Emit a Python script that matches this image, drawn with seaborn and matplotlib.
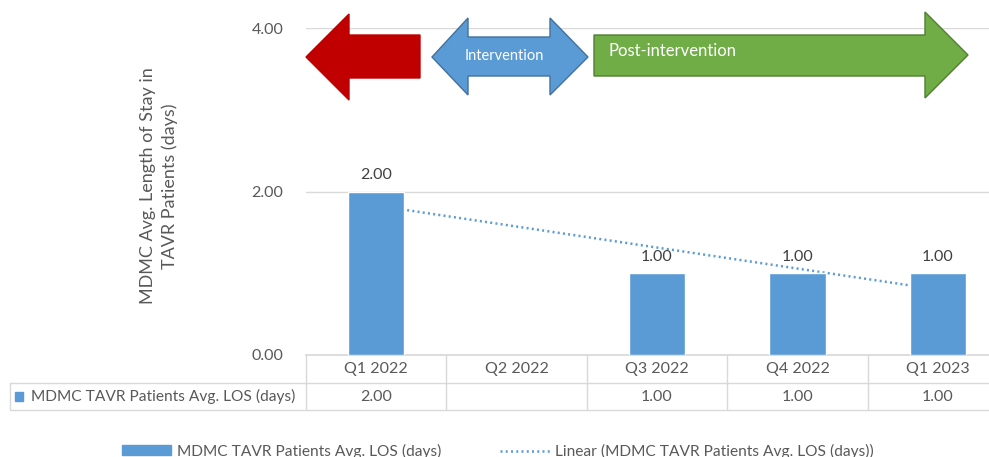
import numpy as np
import pandas as pd
import matplotlib
matplotlib.use("Agg")
import matplotlib.pyplot as plt
from matplotlib.patches import Polygon, Rectangle
from matplotlib.lines import Line2D
import seaborn as sns

categories = ["Q1 2022", "Q2 2022", "Q3 2022", "Q4 2022", "Q1 2023"]
los_values = [2.00, np.nan, 1.00, 1.00, 1.00]
series_name = "MDMC TAVR Patients Avg. LOS (days)"
trend_name = "Linear (MDMC TAVR Patients Avg. LOS (days))"
y_ticks = [0, 2, 4]

sns.set_theme(style="white")
plt.rcParams["font.family"] = ["Lato", "DejaVu Sans"]

W, H = 989, 457
fig = plt.figure(figsize=(W / 100, H / 100), dpi=100)

BAR = "#5B9BD5"
TXT = "#595959"
GRID = "#D9D9D9"
FS = 11.2

# main axes in pixel terms
left_px, right_px, top_px, bot_px = 305.75, 1008.25, 28, 355
ax = fig.add_axes([left_px / W, 1 - bot_px / H, (right_px - left_px) / W, (bot_px - top_px) / H])

df = pd.DataFrame({"cat": categories, "val": los_values}).dropna()
sns.barplot(data=df, x="cat", y="val", order=categories, color=BAR, width=0.4,
            saturation=1, ax=ax, zorder=3)
for c in ax.containers:
    ax.bar_label(c, fmt="%.2f", padding=7, fontsize=11.5, color="#404040")

# linear trendline (Excel-style)
xs = np.arange(len(categories))
vals = np.array(los_values, dtype=float)
m = ~np.isnan(vals)
k, b = np.polyfit(xs[m], vals[m], 1)
ax.plot(xs, k * xs + b, color=BAR, lw=1.8, ls=(0, (0.8, 1.3)), zorder=2)

ax.set_xlim(-0.5, len(categories) - 0.5)
ax.set_ylim(0, 4)
ax.set_yticks(y_ticks)
ax.set_yticklabels([f"{t:.2f}" for t in y_ticks], fontsize=11.5, color=TXT)
ax.tick_params(axis="y", length=0, pad=16)
ax.set_xticks([])
ax.set_xlabel("")
ax.set_ylabel("")
ax.grid(axis="y", color=GRID, lw=1, zorder=0)
for s in ["top", "right", "left"]:
    ax.spines[s].set_visible(False)
ax.spines["bottom"].set_color(GRID)

# overlay in pixel coords for table, arrows, legend, y-label
ov = fig.add_axes([0, 0, 1, 1], zorder=5)
ov.set_xlim(0, W)
ov.set_ylim(H, 0)
ov.axis("off")
ov.patch.set_alpha(0)

step = (right_px - left_px) / len(categories)
bounds = [left_px + step * i for i in range(len(categories) + 1)]
for xb in bounds:
    ov.add_line(Line2D([xb, xb], [355, 410], color=GRID, lw=1))
ov.add_line(Line2D([10, 10], [383, 410], color=GRID, lw=1))
ov.add_line(Line2D([10, W], [383, 383], color=GRID, lw=1))
ov.add_line(Line2D([10, W], [410, 410], color=GRID, lw=1))
for i, cat in enumerate(categories):
    cx = left_px + step * (i + 0.5)
    ov.text(cx, 369, cat, ha="center", va="center", fontsize=11.5, color=TXT)
    v = los_values[i]
    if not np.isnan(v):
        ov.text(cx, 397, f"{v:.2f}", ha="center", va="center", fontsize=11.5, color=TXT)
ov.add_patch(Rectangle((15, 392), 8, 9, color=BAR))
ov.text(31, 396.5, series_name, ha="left", va="center", fontsize=FS, color=TXT)

# legend
ov.add_patch(Rectangle((122, 445), 49, 10, color=BAR))
ov.text(177, 451, series_name, ha="left", va="center", fontsize=FS, color=TXT)
ov.add_line(Line2D([500, 552], [451, 451], color=BAR, lw=1.8, ls=(0, (0.8, 1.3))))
ov.text(555, 451, trend_name, ha="left", va="center", fontsize=FS, color=TXT)

# y label
ov.text(159, 186, "MDMC Avg. Length of Stay in\nTAVR Patients (days)", rotation=90,
        ha="center", va="center", fontsize=13, color=TXT, linespacing=1.45)

# arrows
red = [(306, 57), (349, 14), (349, 35), (420, 35), (420, 78), (349, 78), (349, 100)]
ov.add_patch(Polygon(red, closed=True, fc="#C00000", ec="#C00000", lw=1))
blue = [(432, 57), (468, 18), (468, 37), (550, 37), (550, 18), (588, 57),
        (550, 95), (550, 76), (468, 76), (468, 95)]
ov.add_patch(Polygon(blue, closed=True, fc=BAR, ec="#41719C", lw=1))
green = [(594, 35), (925, 35), (925, 12), (968, 55), (925, 98), (925, 76), (594, 76)]
ov.add_patch(Polygon(green, closed=True, fc="#70AD47", ec="#507E32", lw=1))
ov.text(504, 56, "Intervention", ha="center", va="center", fontsize=10.5, color="white")
ov.text(609, 51, "Post-intervention", ha="left", va="center", fontsize=12, color="white")

fig.savefig("out.png", dpi=100)
